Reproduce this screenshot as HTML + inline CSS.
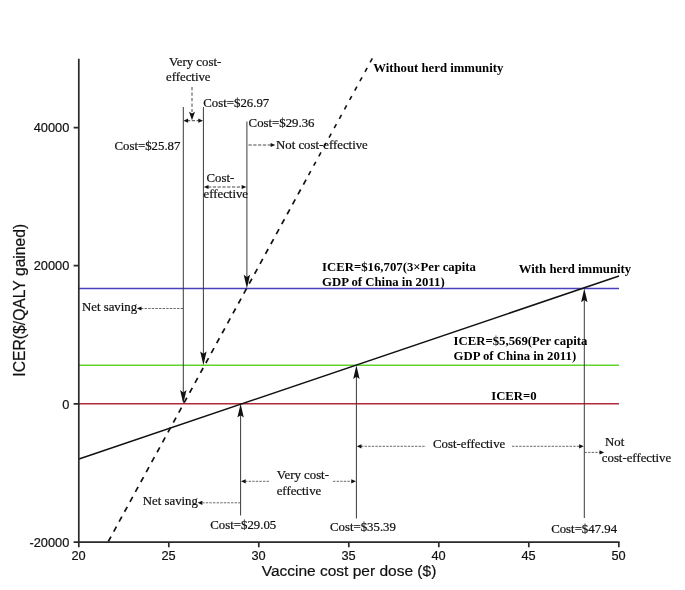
<!DOCTYPE html>
<html>
<head>
<meta charset="utf-8">
<title>ICER vs vaccine cost per dose</title>
<style>
html,body{margin:0;padding:0;background:#fff;}
svg{display:block;}
.s{font-family:"Liberation Serif",serif;font-size:12.8px;fill:#111;stroke:#111;stroke-width:0.22px;}
.b{font-family:"Liberation Serif",serif;font-size:12.75px;font-weight:bold;fill:#000;}
.a{font-family:"Liberation Sans",sans-serif;font-size:12.8px;fill:#111;stroke:#111;stroke-width:0.2px;}
.t{font-family:"Liberation Sans",sans-serif;font-size:15.5px;fill:#111;stroke:#111;stroke-width:0.2px;}
.ax{stroke:#2a2a2a;stroke-width:1.7;fill:none;}
.ln{stroke:#3a3a3a;stroke-width:1;fill:none;}
.d{stroke:#444;stroke-width:0.8;fill:none;stroke-dasharray:2.4 1.2;}
.d2{stroke:#333;stroke-width:0.9;fill:none;stroke-dasharray:3.2 1.6;}
</style>
</head>
<body>
<svg width="685" height="590" viewBox="0 0 685 590">
<rect width="685" height="590" fill="#fff"/>

<!-- threshold lines -->
<line x1="79" y1="288.5" x2="619" y2="288.5" stroke="#4a3fbc" stroke-width="1.4"/>
<line x1="79" y1="365.35" x2="619" y2="365.35" stroke="#62d42e" stroke-width="1.5"/>
<line x1="79" y1="403.85" x2="619" y2="403.85" stroke="#b42a38" stroke-width="1.5"/>

<!-- model lines -->
<line x1="79" y1="459" x2="619" y2="276" stroke="#111" stroke-width="1.5"/>
<line x1="108.3" y1="541.5" x2="308.55" y2="175.1" stroke="#111" stroke-width="1.7" stroke-dasharray="5.65 5.65"/>
<line x1="308.55" y1="175.1" x2="372.4" y2="58.3" stroke="#111" stroke-width="1.6" stroke-dasharray="4.5 6.2"/>

<!-- axes -->
<path class="ax" d="M78.8 58.8V542.1H619.6"/>
<path class="ax" d="M73.6 127.7H79M73.6 265.7H79M73.6 403.9H79M73.6 542.1H79"/>
<path class="ax" d="M78.8 542.1V547.2M168.8 542.1V547.2M258.8 542.1V547.2M348.8 542.1V547.2M438.8 542.1V547.2M528.8 542.1V547.2M618.8 542.1V547.2"/>

<!-- y tick labels -->
<text class="a" x="69.3" y="132.4" text-anchor="end">40000</text>
<text class="a" x="69.3" y="270.4" text-anchor="end">20000</text>
<text class="a" x="69.3" y="408.5" text-anchor="end">0</text>
<text class="a" x="69.3" y="546.5" text-anchor="end">-20000</text>
<!-- x tick labels -->
<text class="a" x="78.6" y="560.4" text-anchor="middle">20</text>
<text class="a" x="168.6" y="560.4" text-anchor="middle">25</text>
<text class="a" x="258.6" y="560.4" text-anchor="middle">30</text>
<text class="a" x="348.6" y="560.4" text-anchor="middle">35</text>
<text class="a" x="438.6" y="560.4" text-anchor="middle">40</text>
<text class="a" x="528.6" y="560.4" text-anchor="middle">45</text>
<text class="a" x="618.6" y="560.4" text-anchor="middle">50</text>

<!-- axis titles -->
<text class="t" x="349" y="576" text-anchor="middle">Vaccine cost per dose ($)</text>
<text class="t" style="font-size:15.7px" transform="translate(24.7,300.2) rotate(-90)" text-anchor="middle">ICER($/QALY gained)</text>

<!-- vertical arrows -->
<path class="ln" d="M183.3 107V396M203.4 107V357M246.9 121.5V281M240.6 515.5V411M356.4 518.5V372M584.3 518V295"/>
<g fill="#111">
<path d="M183.3 403.8L180.1 390L183.3 392.4L186.5 390Z"/>
<path d="M203.4 365.2L200.2 351.4L203.4 353.8L206.6 351.4Z"/>
<path d="M246.9 288.5L243.7 274.7L246.9 277.1L250.1 274.7Z"/>
<path d="M240.6 403.8L237.4 417.6L240.6 415.2L243.8 417.6Z"/>
<path d="M356.4 365.3L353.2 379.1L356.4 376.7L359.6 379.1Z"/>
<path d="M584.3 288.5L581.1 302.3L584.3 299.9L587.5 302.3Z"/>
</g>

<!-- dashed annotation arrows -->
<path class="d2" style="stroke-dasharray:3.3 2.2" d="M192 87V112"/>
<path fill="#111" d="M192 120.3L189 111.8L192 113.5L195 111.8Z"/>
<path class="d2" d="M187 120.7H200"/>
<path fill="#111" d="M183.4 120.7L188.1 118.6V122.8ZM203 120.7L198.3 118.6V122.8Z"/>
<path class="d2" d="M208 187H242"/>
<path fill="#111" d="M203.8 187L208.5 184.9V189.1ZM246.4 187L241.7 184.9V189.1Z"/>
<path class="d2" d="M248.5 145H271"/>
<path fill="#111" d="M275.3 145L270.6 142.9V147.1Z"/>
<!-- net saving upper -->
<path class="d" d="M183 308.5H141"/>
<path fill="#111" d="M136.8 308.5L141.5 306.4V310.6Z"/>
<!-- net saving lower -->
<path class="d" d="M240.6 502.8H202"/>
<path fill="#111" d="M197.6 502.8L202.3 500.7V504.9Z"/>
<!-- very cost-effective lower -->
<path class="d" d="M245 481.3H270M333 481.3H352"/>
<path fill="#111" d="M241 481.3L245.7 479.2V483.4ZM356 481.3L351.3 479.2V483.4Z"/>
<!-- cost-effective lower -->
<path class="d" d="M361 446.3H426M512 446.3H580"/>
<path fill="#111" d="M356.8 446.3L361.5 444.2V448.4ZM583.8 446.3L579.1 444.2V448.4Z"/>
<!-- not cost-effective lower -->
<path class="d" d="M584.5 452.4H600"/>
<path fill="#111" d="M604.2 452.4L599.5 450.3V454.5Z"/>

<!-- labels -->
<text class="s" x="169" y="65.5">Very cost-</text>
<text class="s" x="166" y="80.8">effective</text>
<text class="s" x="203.3" y="106.5">Cost=$26.97</text>
<text class="s" x="248.6" y="126.5">Cost=$29.36</text>
<text class="s" x="114.5" y="150">Cost=$25.87</text>
<text class="s" x="276" y="148.5">Not cost-effective</text>
<text class="s" x="206.5" y="182.4">Cost-</text>
<text class="s" x="203.5" y="197.5">effective</text>
<text class="s" x="82" y="310.6">Net saving</text>
<text class="s" x="142.8" y="505.2">Net saving</text>
<text class="s" x="276.7" y="479.3">Very cost-</text>
<text class="s" x="276.7" y="494.8">effective</text>
<text class="s" x="210.3" y="528.7">Cost=$29.05</text>
<text class="s" x="330" y="530.9">Cost=$35.39</text>
<text class="s" x="551.2" y="532.7">Cost=$47.94</text>
<text class="s" x="433" y="448.4">Cost-effective</text>
<text class="s" x="605" y="446.2">Not</text>
<text class="s" x="601.8" y="461.6">cost-effective</text>

<text class="b" x="373.2" y="71.5">Without herd immunity</text>
<text class="b" x="518.8" y="272.6">With herd immunity</text>
<text class="b" x="322.1" y="270.5">ICER=$16,707(3×Per capita</text>
<text class="b" x="322.1" y="285.5">GDP of China in 2011)</text>
<text class="b" x="453.6" y="345">ICER=$5,569(Per capita</text>
<text class="b" x="453.6" y="360">GDP of China in 2011)</text>
<text class="b" x="491.2" y="399.8">ICER=0</text>
</svg>
</body>
</html>
